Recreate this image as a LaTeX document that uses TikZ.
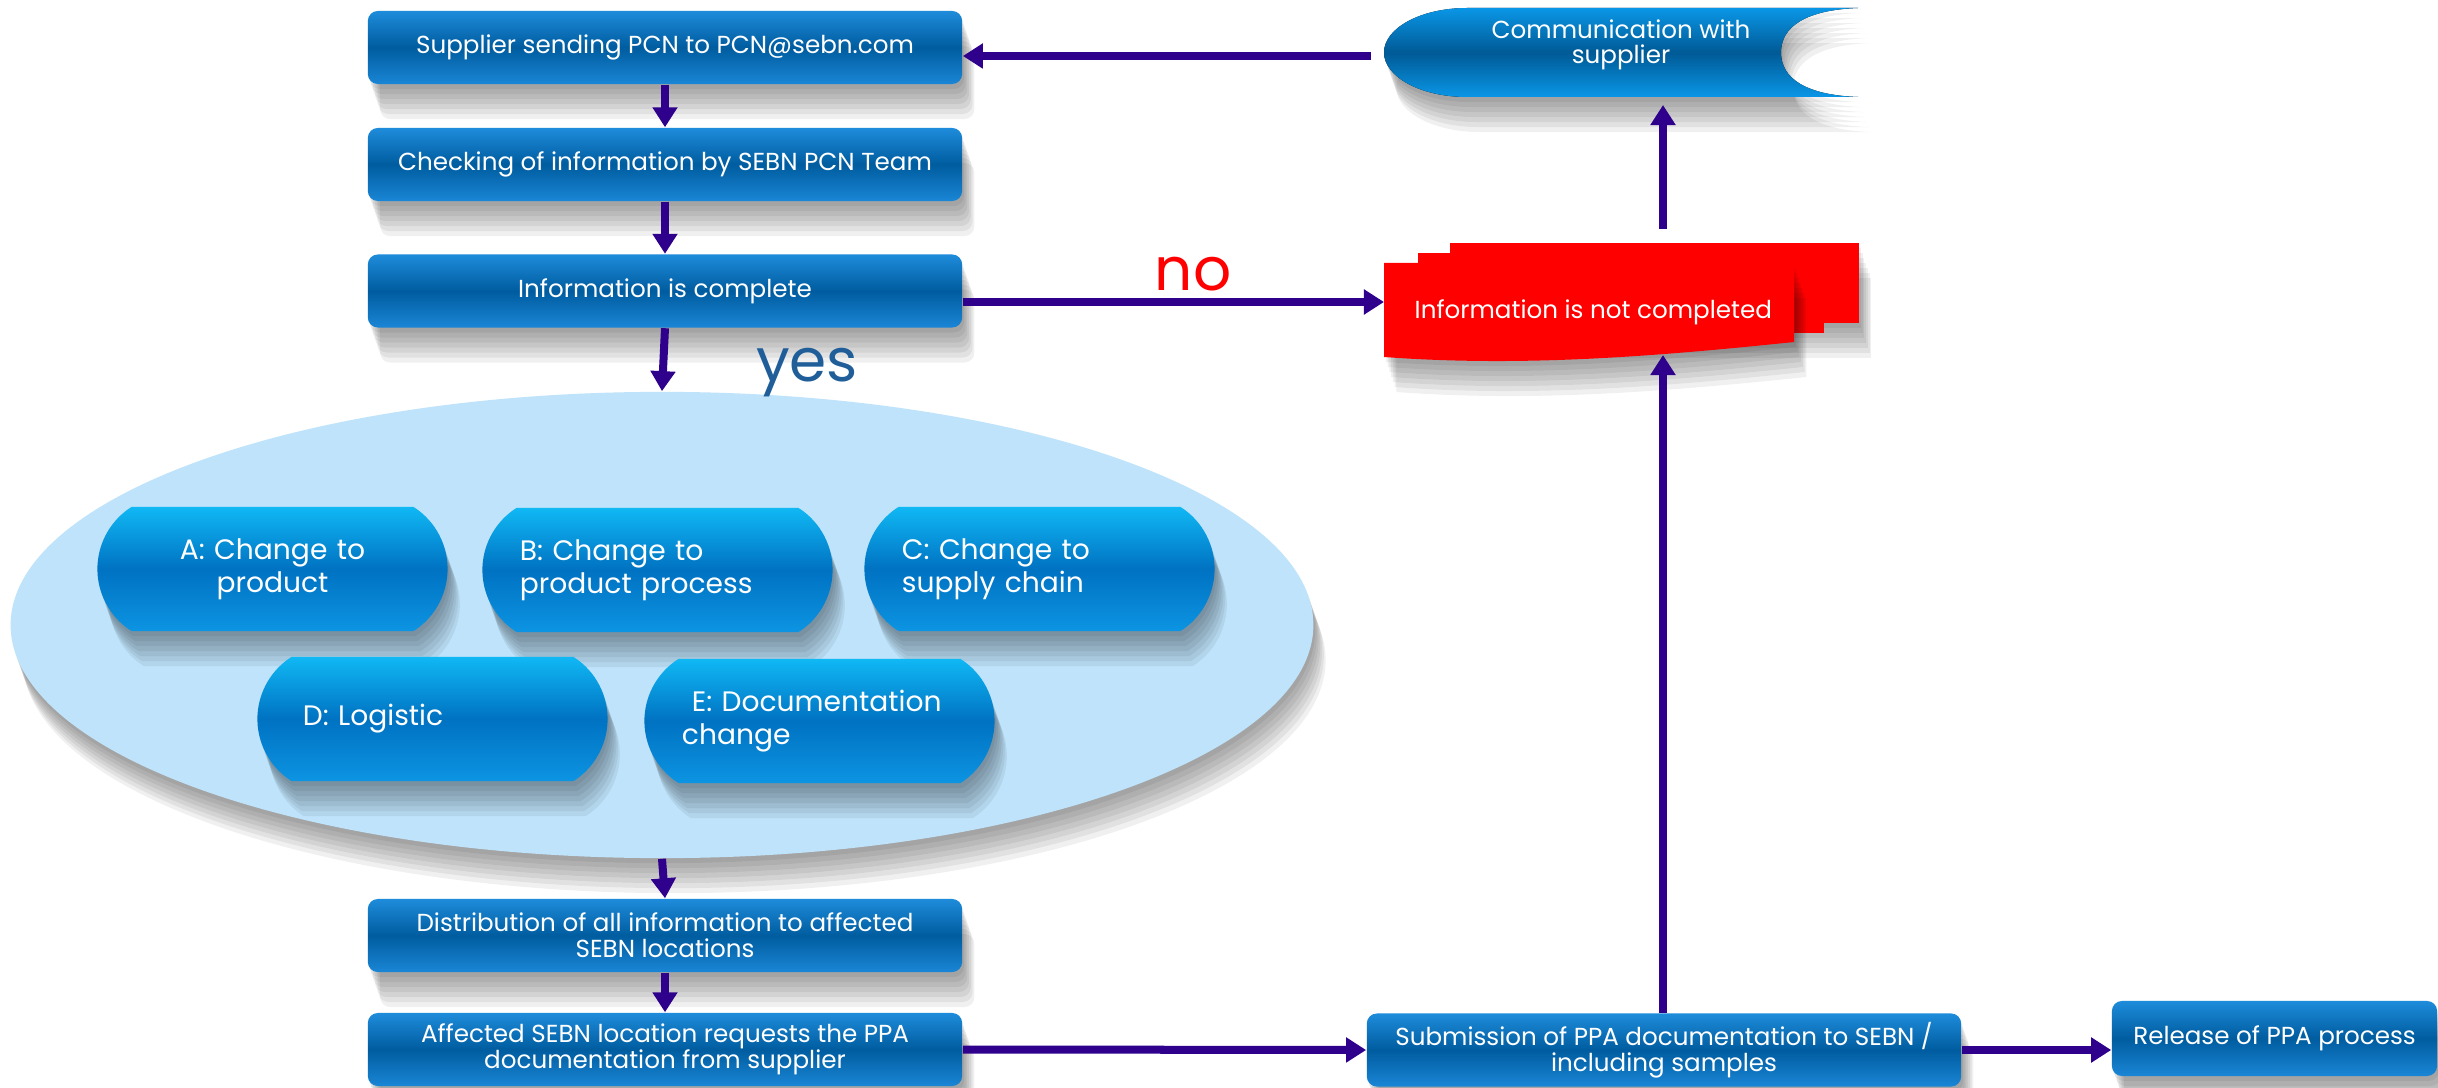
\documentclass[tikz,border=0pt]{standalone}
\usepackage{fontspec}
\setmainfont{Poppins}
\usetikzlibrary{arrows.meta, shapes.geometric, shapes.misc}

\definecolor{boxtop}{HTML}{1E8CDB}
\definecolor{boxmid}{HTML}{005C9F}
\definecolor{boxbot}{HTML}{1A86D6}
\definecolor{pilltop}{HTML}{10B8F4}
\definecolor{pillmid}{HTML}{0072C2}
\definecolor{pillbot}{HTML}{0C94E2}
\definecolor{groupfill}{HTML}{BEE3FA}
\definecolor{arrowc}{HTML}{2E008C}
\definecolor{yesblue}{HTML}{1F5E99}
\definecolor{commedge}{HTML}{0A96E6}
\definecolor{commmid}{HTML}{005A96}

\begin{document}
\begin{tikzpicture}[x = 0.01cm, y = 0.01cm,
		shadowlayer/.style = {preaction = {fill = black, opacity = 0.06, transform canvas = {xshift = #1*0.35, yshift = -#1}}},
		softshadow/.style = {shadowlayer = 0.05cm, shadowlayer = 0.1cm, shadowlayer = 0.15cm, shadowlayer = 0.2cm, shadowlayer = 0.25cm, shadowlayer = 0.3cm, shadowlayer = 0.35cm},
		box/.style = {rectangle, rounded corners = 0.1cm, minimum width = 5.94cm, minimum height = 0.73cm, inner sep = 0.05cm,
			top color = boxtop, bottom color = boxbot, middle color = boxmid, text = white, align = center,
			font = \fontsize{7}{7.3}\selectfont, softshadow},
		pill/.style = {rounded rectangle, rounded rectangle arc length = 115, minimum width = 3.6cm, minimum height = 1.24cm, inner sep = 0.05cm,
			top color = pilltop, bottom color = pillbot, middle color = pillmid, text = white, text width = 2.75cm, align = left,
			font = \fontsize{8}{9.4}\selectfont, softshadow},
		flow/.style = {draw = arrowc, line width = 0.08cm, -{Triangle[width = 0.24cm, length = 0.2cm]}}]
	
		\fill[white] (0, 0) rectangle (2438, 1087);
		\useasboundingbox (0, 0) rectangle (2438, 1087);
		
		\node[ellipse, minimum width = 13.02cm, minimum height = 4.66cm, inner sep = 0, fill = groupfill, softshadow] (group) at (662, 462) {};
		
		\node[box] (sending) at (665, 1039.5) {Supplier sending PCN to PCN@sebn.com};
		\node[box] (checking) at (665, 922.5) {Checking of information by SEBN PCN Team};
		\node[box] (complete) at (665, 796) {Information is complete};
		\node[box] (distribution) at (665, 151.5) {Distribution of all information to affected\\SEBN locations};
		\node[box] (request) at (665, 37.5) {Affected SEBN location requests the PPA\\documentation from supplier};
		\node[box] (submission) at (1664, 37) {Submission of PPA documentation to SEBN /\\including samples};
		\node[box, minimum width = 3.25cm, minimum height = 0.75cm] (release) at (2274.5, 48.5) {Release of PPA process};
		
		\node[pill, align = center] (chA) at (272.5, 518) {A: Change to\\product};
		\node[pill] (chB) at (657.5, 517) {B: Change to\\product process};
		\node[pill] (chC) at (1039.5, 518) {C: Change to\\supply chain};
		\node[pill] (chD) at (432.5, 368) {\hspace{0.08cm}D: Logistic};
		\node[pill] (chE) at (819.5, 366) {\hspace{0.1cm}E: Documentation\\change};
		
		% communication with supplier
		\fill[top color = commedge, bottom color = commedge, middle color = commmid, softshadow]
			(1467, 1079) -- (1858, 1079) .. controls (1805, 1077) and (1781, 1060) .. (1781, 1034.5)
			.. controls (1781, 1009) and (1805, 992) .. (1858, 990) -- (1467, 990)
			.. controls (1421, 990) and (1384, 1010) .. (1384, 1034.5)
			.. controls (1384, 1059) and (1421, 1079) .. (1467, 1079) -- cycle;
		\node[text = white, align = center, font = \fontsize{7}{7.1}\selectfont] (comm) at (1621, 1042) {Communication with\\supplier};
		
		% information is not completed
		\fill[red, softshadow] (1450, 764) rectangle (1859, 844);
		\fill[red] (1418, 754) rectangle (1824, 834);
		\fill[red, softshadow] (1384, 824) -- (1794, 824) -- (1794, 745) .. controls (1650, 730) and (1520, 720) .. (1384, 730) -- cycle;
		\node[anchor = west, text = white, inner sep = 0, font = \fontsize{7}{7.3}\selectfont] (notdone) at (1414, 775) {Information is not completed};
		
		\coordinate (ncwest) at (1384, 785);
		\coordinate (ncsouth) at (1663, 732);
		\coordinate (ncnorth) at (1663, 858);
		\coordinate (commsouth) at (1663, 982);
		\coordinate (commwest) at (1371, 1031);
		
		\draw[flow] (sending) -- (checking);
		\draw[flow] (checking) -- (complete);
		\draw[flow] (complete.south) -- (group.north);
		\draw[flow] (group.south) -- (distribution.north);
		\draw[flow] (distribution) -- (request);
		\draw[flow] (request.east) -- (submission.west);
		\draw[flow] (submission.east) -- (submission.east -| release.west);
		\draw[flow] (complete.east |- ncwest) -- (ncwest);
		\draw[flow] (submission.north -| ncsouth) -- (ncsouth);
		\draw[flow] (ncnorth) -- (commsouth);
		\draw[flow] (commwest) -- (sending.east |- commwest);
		
		\node[red, font = \fontsize{17}{20}\selectfont] (no) at (1193, 813) {no};
		\node[yesblue, font = \fontsize{17}{20}\selectfont] (yes) at (807, 714) {yes};
	
	\end{tikzpicture}
\end{document}
